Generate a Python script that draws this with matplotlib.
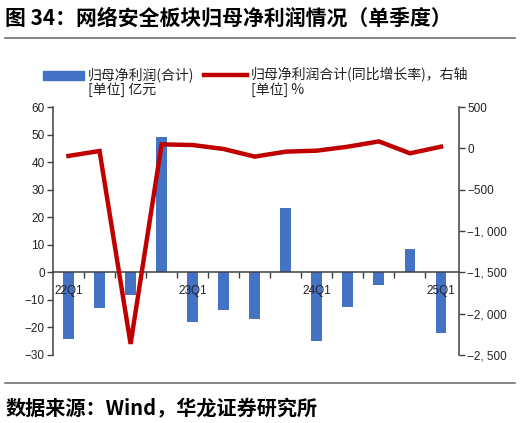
import matplotlib
matplotlib.use("Agg")
import matplotlib.pyplot as plt
from matplotlib.lines import Line2D
from matplotlib.patches import Rectangle
from matplotlib.ticker import FuncFormatter

plt.rcParams['font.family'] = ['Liberation Sans', 'Noto Sans CJK SC', 'DejaVu Sans']

quarters = ["22Q1", "22Q2", "22Q3", "22Q4", "23Q1", "23Q2", "23Q3",
            "23Q4", "24Q1", "24Q2", "24Q3", "24Q4", "25Q1"]
profit = [-24.3, -12.9, -8.3, 49.2, -18.1, -13.7, -17.1,
          23.3, -24.9, -12.5, -4.7, 8.3, -21.9]
growth = [-92, -32, -2366, 48, 40, -8, -100,
          -40, -28, 20, 84, -60, 20]
shown_labels = ["22Q1", "23Q1", "24Q1", "25Q1"]

blue = "#4472C4"
red = "#C00000"
axis_col = "#404040"
cjk = ['Noto Sans CJK SC', 'DejaVu Sans']

fig = plt.figure(figsize=(5.23, 4.23), dpi=100)
ax = fig.add_axes([0.1013, 0.1608, 0.7763, 0.5862])
ax2 = ax.twinx()

x = list(range(len(quarters)))
ax.bar(x, profit, width=0.35, color=blue, zorder=2)
ax2.plot(x, growth, color=red, linewidth=3.2, solid_joinstyle="miter", zorder=3)

ax.set_ylim(-30, 60)
ax.set_yticks(range(-30, 61, 10))
ax2.set_ylim(-2500, 500)
ax2.set_yticks(range(-2500, 501, 500))
ax.set_xlim(-0.5, 12.58)

ax.yaxis.set_major_formatter(FuncFormatter(lambda v, p: f"{int(v)}".replace("-", "\u2212")))
ax2.yaxis.set_major_formatter(FuncFormatter(lambda v, p: f"{int(v):,}".replace("-", "\u2212").replace(",", ", ")))

# x axis sits at zero, boundary ticks, labels only on Q1
ax.set_axisbelow(False)
ax.spines['bottom'].set_position(('data', 0))
ax.set_xticks([i + 0.5 for i in range(len(quarters) - 1)])
ax.set_xticklabels([])
ax.set_xticks([quarters.index(q) for q in shown_labels], minor=True)
ax.set_xticklabels(shown_labels, minor=True)
ax.tick_params(axis='x', which='major', direction='out', length=4, width=1, color=axis_col)
ax.tick_params(axis='x', which='minor', length=0, pad=9, labelsize=8.5, labelcolor="#222222")

for a in (ax, ax2):
    a.spines['top'].set_visible(False)
    for s in a.spines.values():
        s.set_color(axis_col)
        s.set_linewidth(1.1)
ax.spines['right'].set_visible(False)
ax2.spines['left'].set_visible(False)
ax2.spines['bottom'].set_visible(False)

ax.tick_params(axis='y', direction='out', length=4, width=1, color=axis_col,
               labelsize=8.5, labelcolor="#222222", pad=2)
ax2.tick_params(axis='y', direction='out', length=4, width=1, color=axis_col,
                labelsize=8.5, labelcolor="#222222", pad=2)
ax.patch.set_visible(False)

# title and rules
fig.text(0.010, 0.957, "图 34：网络安全板块归母净利润情况（单季度）", fontsize=15,
         fontweight='bold', family=cjk, va='center', ha='left')
fig.add_artist(Line2D([0.01, 0.985], [0.910, 0.910], color="#707070", linewidth=1.2))
fig.add_artist(Line2D([0.01, 0.985], [0.095, 0.095], color="#707070", linewidth=1.2))
fig.text(0.010, 0.035, "数据来源：Wind，华龙证券研究所", fontsize=14.5,
         fontweight='bold', family=cjk, va='center', ha='left')

# legend
fig.add_artist(Rectangle((0.083, 0.811), 0.078, 0.022, color=blue, transform=fig.transFigure))
fig.text(0.168, 0.823, "归母净利润(合计)", fontsize=10, family=cjk, va='center', color="#222222")
fig.text(0.168, 0.787, "[单位] 亿元", fontsize=10, family=cjk, va='center', color="#222222")
fig.add_artist(Line2D([0.390, 0.472], [0.823, 0.823], color=red, linewidth=3.2))
fig.text(0.480, 0.823, "归母净利润合计(同比增长率)，右轴", fontsize=10, family=cjk,
         va='center', color="#222222")
fig.text(0.480, 0.787, "[单位] %", fontsize=10, family=cjk, va='center', color="#222222")

fig.savefig("out.png", dpi=100)
